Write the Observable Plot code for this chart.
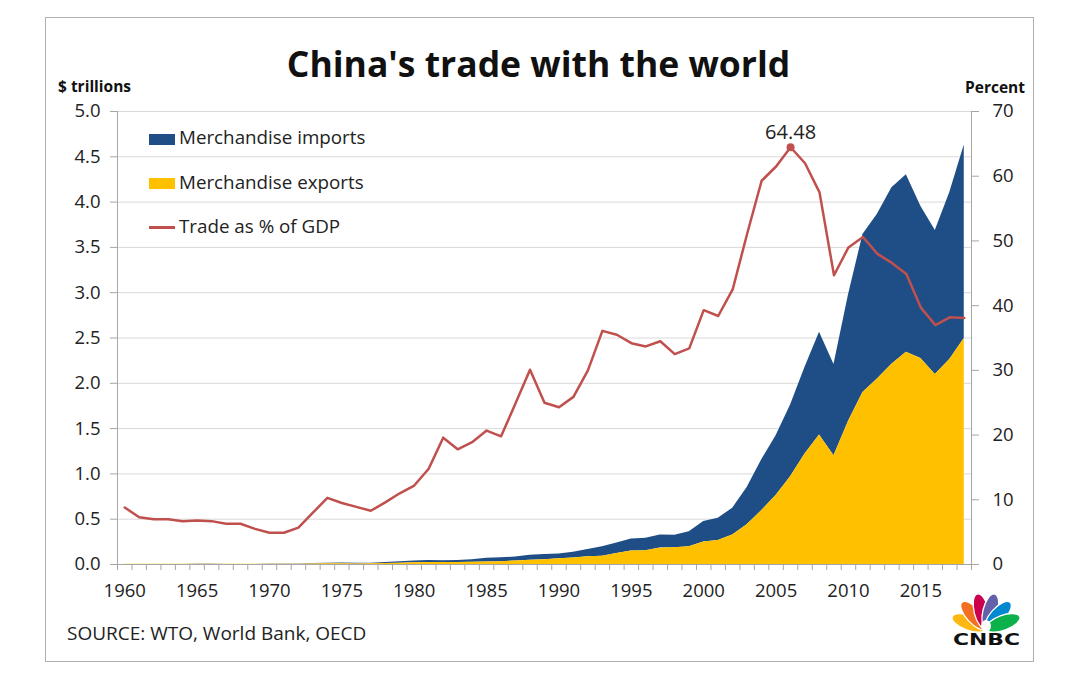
<!DOCTYPE html>
<html>
<head>
<meta charset="utf-8">
<script src="https://cdn.jsdelivr.net/npm/d3@7"></script>
<script src="https://cdn.jsdelivr.net/npm/@observablehq/plot@0.6"></script>
<style>
  html, body { margin: 0; padding: 0; background: #fff; }
  #wrap { position: relative; width: 1080px; height: 698px; overflow: hidden; font-family: "Open Sans", sans-serif; color: #222; background: #fff; }
  #border { position: absolute; left: 45px; top: 17px; width: 989px; height: 645px; border: 1.5px solid #b0b0b0; box-sizing: border-box; }
  .t { position: absolute; line-height: 1; white-space: nowrap; }
  #title { left: 0; width: 1077px; text-align: center; top: 46px; font-size: 35.5px; font-weight: 700; color: #111; }
  #yl { left: 58px; top: 79px; font-size: 15.5px; font-weight: 700; color: #111; }
  #yr { left: 965px; top: 80px; font-size: 15.5px; font-weight: 700; color: #111; }
  #src { left: 67px; top: 624px; font-size: 19px; color: #222; }
  .lg { font-size: 18.8px; color: #222; left: 179px; }
  .sw { position: absolute; left: 149px; width: 26px; }
  #chart { position: absolute; left: 0; top: 0; }
  #logo { position: absolute; left: 0; top: 0; }
</style>
</head>
<body>
<div id="wrap">
  <div id="border"></div>
  <div id="chart"></div>
  <div class="t" id="title">China's trade with the world</div>
  <div class="t" id="yl">$ trillions</div>
  <div class="t" id="yr">Percent</div>
  <div class="sw" style="top:134px;height:11px;background:#1f4e87"></div>
  <div class="t lg" style="top:128px">Merchandise imports</div>
  <div class="sw" style="top:178px;height:11px;background:#ffc000"></div>
  <div class="t lg" style="top:173px">Merchandise exports</div>
  <div class="sw" style="top:226px;height:2.5px;background:#c0504d"></div>
  <div class="t lg" style="top:217px">Trade as % of GDP</div>
  <div class="t" id="src">SOURCE: WTO, World Bank, OECD</div>
  <svg id="logo" width="1080" height="698">
    <g transform="translate(986,629)" stroke="#fff" stroke-width="1.3">
      <ellipse cx="0" cy="-18" rx="7.5" ry="18" fill="#fcb711" transform="rotate(-70)"/>
      <ellipse cx="0" cy="-18" rx="7.5" ry="18" fill="#f37021" transform="rotate(-42)"/>
      <ellipse cx="0" cy="-18" rx="7.5" ry="18" fill="#cc004c" transform="rotate(-14)"/>
      <ellipse cx="0" cy="-18" rx="7.5" ry="18" fill="#6460aa" transform="rotate(14)"/>
      <ellipse cx="0" cy="-18" rx="7.5" ry="18" fill="#0089d0" transform="rotate(42)"/>
      <ellipse cx="0" cy="-18" rx="7.5" ry="18" fill="#0db14b" transform="rotate(70)"/>
      <ellipse cx="0" cy="-3" rx="5" ry="6" fill="#fff" stroke="none"/>
    </g>
    <text x="953" y="645" textLength="67" lengthAdjust="spacingAndGlyphs" font-family="DejaVu Sans" font-weight="700" font-size="16" fill="#111">CNBC</text>
  </svg>
</div>
<script>
// ---- data ----
const years = [1960,1961,1962,1963,1964,1965,1966,1967,1968,1969,
  1970,1971,1972,1973,1974,1975,1976,1977,1978,1979,
  1980,1981,1982,1983,1984,1985,1986,1987,1988,1989,
  1990,1991,1992,1993,1994,1995,1996,1997,1998,1999,
  2000,2001,2002,2003,2004,2005,2006,2007,2008,2009,
  2010,2011,2012,2013,2014,2015,2016,2017,2018];

// Merchandise exports, $ trillions
const exportsT = [0.0019,0.0015,0.0015,0.0017,0.0019,0.0022,0.0024,0.0021,0.0021,0.0022,
  0.0023,0.0026,0.0034,0.0058,0.0071,0.0077,0.0069,0.0076,0.0100,0.0137,
  0.0181,0.0220,0.0223,0.0222,0.0261,0.0274,0.0309,0.0394,0.0475,0.0525,
  0.0621,0.0718,0.0849,0.0917,0.1210,0.1488,0.1510,0.1828,0.1837,0.1949,
  0.2492,0.2661,0.3256,0.4382,0.5933,0.7620,0.9690,1.2201,1.4307,1.2016,
  1.5778,1.8984,2.0487,2.2090,2.3423,2.2735,2.0976,2.2634,2.4942];

// Merchandise imports, $ trillions
const importsT = [0.0020,0.0015,0.0012,0.0013,0.0016,0.0020,0.0023,0.0020,0.0020,0.0018,
  0.0023,0.0022,0.0029,0.0052,0.0076,0.0075,0.0066,0.0072,0.0111,0.0157,
  0.0200,0.0220,0.0193,0.0214,0.0274,0.0423,0.0429,0.0432,0.0553,0.0591,
  0.0533,0.0638,0.0806,0.1040,0.1156,0.1321,0.1388,0.1424,0.1402,0.1657,
  0.2251,0.2436,0.2952,0.4128,0.5612,0.6600,0.7915,0.9561,1.1326,1.0059,
  1.3962,1.7435,1.8184,1.9500,1.9592,1.6796,1.5879,1.8438,2.1357];

// Trade as % of GDP
const tradePct = [8.8,7.3,7.0,7.0,6.7,6.8,6.7,6.3,6.3,5.5,
  4.9,4.9,5.7,8.0,10.3,9.5,8.9,8.3,9.6,11.0,
  12.2,14.8,19.6,17.8,18.9,20.7,19.8,24.9,30.1,25.0,
  24.3,25.9,30.0,36.1,35.5,34.2,33.7,34.5,32.5,33.4,
  39.3,38.4,42.5,51.1,59.3,61.5,64.48,62.0,57.5,44.7,
  49.0,50.6,48.0,46.6,44.9,39.7,37.0,38.2,38.1];

// ticks
const leftTicks = [0,0.5,1.0,1.5,2.0,2.5,3.0,3.5,4.0,4.5,5.0];
const rightTicks = [0,10,20,30,40,50,60,70];
const yearLabels = [1960,1965,1970,1975,1980,1985,1990,1995,2000,2005,2010,2015];

// ---- build ----
const rows = years.map((yr, i) => ({
  year: yr,
  exp: exportsT[i],
  tot: exportsT[i] + importsT[i],
  pct: tradePct[i]
}));
const pctMax = 70, leftMax = 5;
const toLeft = p => p * leftMax / pctMax;
const peak = rows.reduce((a, b) => (b.pct > a.pct ? b : a));
const boundaries = [years[0] - 0.5, ...years.map(y => y + 0.5)];

const BLUE = "#1f4e87", YELLOW = "#ffc000", RED = "#c0504d", AXIS = "#a6a6a6", TXT = "#222";

const chart = Plot.plot({
  width: 1080,
  height: 698,
  marginLeft: 117,
  marginRight: 109,
  marginTop: 111,
  marginBottom: 134,
  x: { type: "linear", domain: [years[0] - 0.5, years[years.length - 1] + 0.5] },
  y: { domain: [0, leftMax] },
  style: { fontFamily: "Open Sans", fontSize: "18.5px", background: "transparent", overflow: "visible" },
  marks: [
    Plot.ruleY(leftTicks.filter(d => d > 0), { stroke: "#d9d9d9", strokeWidth: 1 }),
    Plot.areaY(rows, { x: "year", y1: "exp", y2: "tot", fill: BLUE }),
    Plot.areaY(rows, { x: "year", y1: 0, y2: "exp", fill: YELLOW }),
    Plot.ruleY([0], { stroke: AXIS }),
    Plot.ruleX([boundaries[0], boundaries[boundaries.length - 1]], { stroke: AXIS }),
    Plot.lineY(rows, { x: "year", y: d => toLeft(d.pct), stroke: RED, strokeWidth: 2.5, strokeLinejoin: "round" }),
    Plot.dot([peak], { x: "year", y: d => toLeft(d.pct), r: 4, fill: RED }),
    Plot.text([peak], { x: "year", y: d => toLeft(d.pct), text: d => d.pct.toFixed(2), lineAnchor: "bottom", dy: -8, fontSize: 20, fill: TXT }),
    Plot.axisX(boundaries, { tickSize: 6, tickFormat: () => "", stroke: AXIS, label: null }),
    Plot.axisX(yearLabels, { tickSize: 0, tickPadding: 19, tickFormat: d => String(d), fill: TXT, label: null }),
    Plot.axisY(leftTicks, { anchor: "left", tickSize: 7, tickPadding: 10, tickFormat: d => d.toFixed(1), stroke: AXIS, fill: TXT, label: null }),
    Plot.axisY(rightTicks.map(toLeft), { anchor: "right", tickSize: 7, tickPadding: 14, tickFormat: d => String(Math.round(d * pctMax / leftMax)), stroke: AXIS, fill: TXT, label: null })
  ]
});
document.getElementById("chart").appendChild(chart);
</script>
</body>
</html>
